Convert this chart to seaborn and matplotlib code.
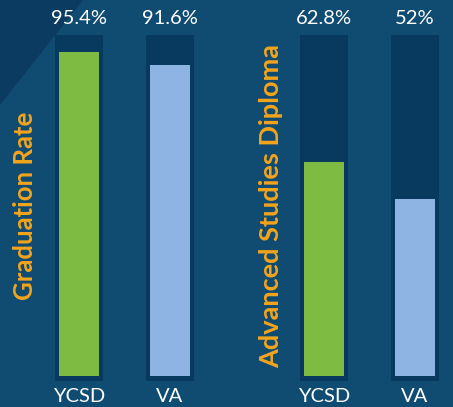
import numpy as np
import pandas as pd
import matplotlib
matplotlib.use('Agg')
import matplotlib.pyplot as plt
import seaborn as sns
from matplotlib.patches import Polygon

# 数据
groups = ['YCSD', 'VA']
grad_rate = [95.4, 91.6]
adv_diploma = [62.8, 52.0]
panel_titles = ['Graduation Rate', 'Advanced Studies Diploma']
value_labels = [['95.4%', '91.6%'], ['62.8%', '52%']]

BG = '#104c72'
TRI = '#0b3b60'
TRACK = '#083a60'
ORANGE = '#f4a41c'
bar_colors = ['#7dbb42', '#8db4e2']

sns.set_theme(style='white')
plt.rcParams['font.family'] = ['Lato', 'DejaVu Sans']

W, H = 453, 407
fig = plt.figure(figsize=(W / 100, H / 100), dpi=100)
fig.patch.set_facecolor(BG)
fig.add_artist(Polygon([[0, 1], [83 / W, 1], [0, 1 - 105 / H]], closed=True,
                       transform=fig.transFigure, facecolor=TRI, edgecolor='none', zorder=0))

lefts = [33.5, 278.5]
title_sizes = [18.5, 19.5]
title_x = [0.019, 0.025]
for k, vals in enumerate([grad_rate, adv_diploma]):
    ax = fig.add_axes([lefts[k] / W, 26 / H, 182 / W, 346 / H])
    ax.set_facecolor('none')
    # 背景槽
    ax.bar(range(len(groups)), [101.8] * len(groups), bottom=-1.5, width=0.527,
           color=TRACK, linewidth=0, zorder=1)
    df = pd.DataFrame({'group': groups, 'value': vals})
    sns.barplot(data=df, x='group', y='value', hue='group', palette=bar_colors,
                width=0.43, legend=False, ax=ax, zorder=2, saturation=1, linewidth=0)
    for i, lab in enumerate(value_labels[k]):
        ax.text(i, 105.3, lab, ha='center', va='center', color='white', fontsize=14.5)
    ax.set_xlim(-0.5, 1.5)
    ax.set_ylim(-1.5, 100.3)
    ax.set_yticks([])
    ax.set_xlabel('')
    ax.set_ylabel(panel_titles[k], color=ORANGE, fontsize=title_sizes[k], fontweight='bold')
    ax.yaxis.set_label_coords(title_x[k], 0.506)
    ax.tick_params(axis='x', length=0, pad=5, labelsize=14.5, labelcolor='white')
    for s in ax.spines.values():
        s.set_visible(False)

fig.savefig('out.png', dpi=100, facecolor=BG)
